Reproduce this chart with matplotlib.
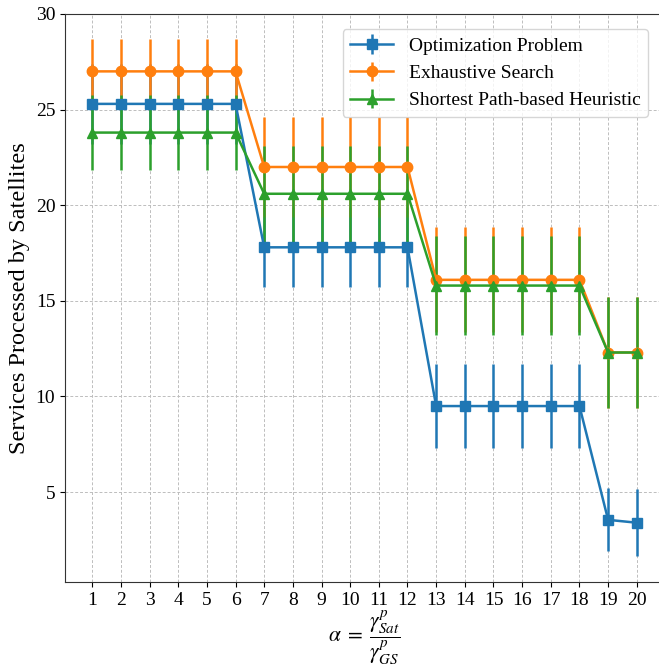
import matplotlib.pyplot as plt
import numpy as np

plt.rcParams['font.family'] = ['Liberation Serif', 'DejaVu Serif']
plt.rcParams['mathtext.fontset'] = 'stix'

alpha = np.arange(1, 21)

opt_mean = [25.3] * 6 + [17.8] * 6 + [9.5] * 6 + [3.55, 3.4]
opt_err = [2.1] * 6 + [2.1] * 6 + [2.2] * 6 + [1.65, 1.75]

exh_mean = [27.0] * 6 + [22.0] * 6 + [16.1] * 6 + [12.3, 12.3]
exh_err = [1.7] * 6 + [2.6] * 6 + [2.75] * 6 + [2.9, 2.9]

sp_mean = [23.8] * 6 + [20.6] * 6 + [15.8] * 6 + [12.3, 12.3]
sp_err = [1.95] * 6 + [2.5] * 6 + [2.6] * 6 + [2.9, 2.9]

fig = plt.figure(figsize=(6.59, 6.66), dpi=100)
ax = fig.add_axes([65 / 659, 84 / 666, 599 / 659, 568 / 666])

ax.errorbar(alpha, opt_mean, yerr=opt_err, marker='s', markersize=7.5,
            linewidth=1.8, elinewidth=1.8, color='tab:blue', label='Optimization Problem')
ax.errorbar(alpha, exh_mean, yerr=exh_err, marker='o', markersize=7.5,
            linewidth=1.8, elinewidth=1.8, color='tab:orange', label='Exhaustive Search')
ax.errorbar(alpha, sp_mean, yerr=sp_err, marker='^', markersize=7.5,
            linewidth=1.8, elinewidth=1.8, color='tab:green', label='Shortest Path-based Heuristic')

ax.set_xticks(alpha)
ax.set_yticks([5, 10, 15, 20, 25, 30])
ax.set_xlim(0.05, 20.95)
ax.set_ylim(0.3, 30)
ax.tick_params(labelsize=14)
ax.grid(True, linestyle=(0, (3, 2)), color='#bdbdbd', linewidth=0.7)
for s in ax.spines.values():
    s.set_color('#333333')

ax.set_xlabel(r'$\alpha\;=\;\dfrac{\gamma^p_{Sat}}{\gamma^p_{GS}}$', fontsize=15.5, labelpad=0)
ax.set_ylabel('Services Processed by Satellites', fontsize=17.5)
ax.legend(loc='upper right', fontsize=14, bbox_to_anchor=(0.99, 0.99),
          handlelength=2.2)

fig.savefig('out.png', dpi=100)
